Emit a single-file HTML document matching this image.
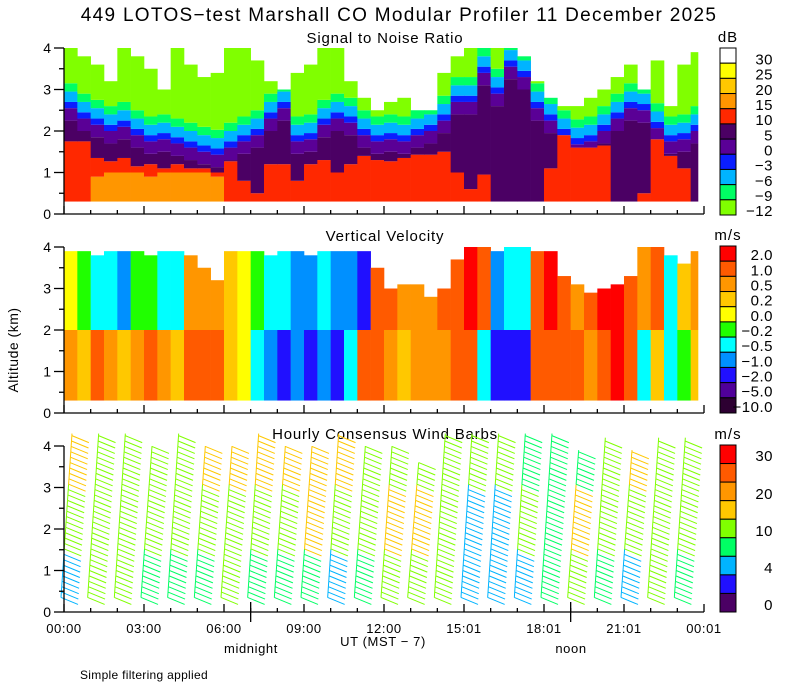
<!DOCTYPE html>
<html><head><meta charset="utf-8">
<style>
html,body{margin:0;padding:0;background:#fff;}
svg{display:block;font-family:"Liberation Sans",sans-serif;}
</style></head>
<body>
<svg id="chart" width="800" height="700" viewBox="0 0 800 700" xmlns="http://www.w3.org/2000/svg">
<rect width="800" height="700" fill="#fff"/>
<text x="399" y="21" font-size="19" letter-spacing="1.3" text-anchor="middle">449 LOTOS−test Marshall CO Modular Profiler 11 December 2025</text>
<text x="385" y="43" font-size="15" letter-spacing="0.8" text-anchor="middle">Signal to Noise Ratio</text>
<text x="385" y="241" font-size="15" letter-spacing="0.8" text-anchor="middle">Vertical Velocity</text>
<text x="385" y="439" font-size="15" letter-spacing="0.8" text-anchor="middle">Hourly Consensus Wind Barbs</text>
<text x="18" y="350" font-size="14" letter-spacing="0.5" text-anchor="middle" transform="rotate(-90 18 350)">Altitude (km)</text>
<text x="383" y="646" font-size="13" letter-spacing="0.6" text-anchor="middle">UT  (MST − 7)</text>
<text x="251" y="653" font-size="13" letter-spacing="0.6" text-anchor="middle">midnight</text>
<text x="571" y="653" font-size="13" letter-spacing="0.6" text-anchor="middle">noon</text>
<text x="80" y="679" font-size="12" letter-spacing="0.3">Simple filtering applied</text>
<g id="layer"></g>
</svg>
<script>
// ---------- data ----------
const timeLabels = ["00:00","03:00","06:00","09:00","12:00","15:01","18:01","21:01","00:01"];
const altTicks = [0,1,2,3,4];
// SNR layer tops (km) per half-hour bin
const snrOrangeTop = [0.3,0.3,0.9,1.0,1.0,1.0,0.9,1.0,1.0,1.0,1.0,0.9,0.3,0.3,0.3,0.3,0.3,0.3,0.3,0.3,0.3,0.3,0.3,0.3,0.3,0.3,0.3,0.3,0.3,0.3,0.3,0.3,0.3,0.3,0.3,0.3,0.3,0.3,0.3,0.3,0.3,0.3,0.3,0.3,0.3,0.3,0.3,0.3];
const snrRedTop = [1.75,1.75,1.35,1.27,1.35,1.15,1.2,1.1,1.2,1.1,1.1,1.0,1.27,0.8,0.5,1.2,1.2,0.8,1.2,1.3,1.0,1.2,1.4,1.3,1.27,1.35,1.43,1.43,1.5,1.0,0.6,0.95,0.3,0.3,0.3,0.3,1.1,2.0,1.6,1.6,1.65,0.3,0.3,0.5,1.8,1.4,1.1,0.3];
const snrPurpleTop = [2.55,2.3,2.15,2.0,2.1,1.9,1.75,1.8,1.7,1.6,1.5,1.43,1.6,1.75,1.9,2.3,2.55,1.75,1.8,2.15,2.3,2.2,1.9,1.75,1.8,1.75,1.9,2.0,2.25,2.7,2.7,3.4,2.9,3.55,3.3,2.55,2.25,1.9,1.68,1.75,2.0,2.3,2.55,2.5,2.07,1.75,1.8,2.0];
const snrDataTop = [4.0,3.8,3.6,3.2,4.0,3.8,3.5,3.0,4.0,3.6,3.3,3.4,4.0,4.0,3.7,3.2,3.0,3.4,3.6,4.0,4.0,3.2,2.8,2.5,2.7,2.8,2.5,2.5,3.4,3.8,4.0,4.0,4.0,4.0,3.8,3.2,2.8,2.6,2.6,2.8,3.0,3.3,3.6,3.0,3.7,2.6,3.6,3.9];
// Vertical velocity (m/s) per half-hour bin, lower (0.3-2 km) and upper (2 km-top)
const vvLow = [0.5,0.2,1.0,0.5,0.2,0.5,1.0,0.5,0.2,1.0,1.5,1.5,0.3,0.0,-0.5,-1.0,-1.5,-1.0,-2.0,-1.0,-2.0,-0.5,1.0,1.5,0.5,0.2,0.5,0.5,0.5,1.0,1.5,-0.5,-2.0,-1.5,-2.0,1.5,1.0,1.0,1.0,0.5,1.5,2.5,1.0,-0.5,0.3,-0.3,-0.2,0.2];
const vvHigh = [0.0,-0.2,-0.3,-0.5,-1.0,-0.2,-0.2,-0.5,-0.5,0.5,0.8,0.5,0.2,0.0,-0.2,-0.5,-0.5,-1.0,-1.0,-0.5,-1.0,-1.0,-2.0,1.5,1.0,0.5,0.5,0.5,1.0,1.0,2.5,1.5,-1.0,-0.5,-0.5,1.5,2.5,1.0,0.5,1.0,2.5,2.5,1.0,0.5,1.0,-0.3,0.2,0.5];
const vvTop = [3.9,3.9,3.8,3.9,3.9,3.9,3.8,3.9,3.9,3.8,3.5,3.2,3.9,3.9,3.9,3.8,3.9,3.9,3.8,3.9,3.9,3.9,3.9,3.5,3.0,3.1,3.1,2.8,3.0,3.7,4.0,4.0,3.9,4.0,4.0,3.9,3.9,3.3,3.1,2.9,3.0,3.1,3.3,4.0,4.0,3.8,3.6,3.9];
// Hourly wind speed (m/s) low / mid / high layers, staff top (km)
const windLow = [6,11,11,9,9,9,10,9,9,9,5,9,11,12,11,5,5,6,9,11,9,5,12,9];
const windMid = [12,12,12,12,12,12,12,13,13,18,12,10,18,18,13,6,6,10,9,18,11,11,12,11];
const windHigh = [18,14,14,14,14,18,18,18,18,18,18,12,12,14,13,11,12,9,9,9,12,18,12,12];
const windTop = [4.3,4.3,4.3,4.0,4.3,4.0,4.0,4.3,4.0,4.0,4.3,4.0,4.0,3.6,4.3,4.3,4.3,4.3,4.3,3.9,4.2,3.9,4.2,4.2];
// colorbars
const snrLabels = ["30","25","20","15","10","5","0","−3","−6","−9","−12"];
const snrColors = ["#ffffff","#ffff00","#ffc800","#ff9600","#ff2800","#4b0064","#5a0096","#0a1eff","#00b4ff","#00ff64","#80ff00"];
const vvLabels = ["2.0","1.0","0.5","0.2","0.0","−0.2","−0.5","−1.0","−2.0","−5.0","−10.0"];
const vvThresh = [2,1,0.5,0.2,0,-0.2,-0.5,-1,-2,-5];
const vvColors = ["#ff0000","#ff5a00","#ff9600","#ffc800","#ffff00","#20ff00","#00ffff","#0090ff","#2010ff","#50009a","#2d0032"];
const windLabels = ["30","20","10","4","0"];
const windThresh = [30,25,20,15,10,7,4,2];
const windColors = ["#ff0000","#ff5a00","#ff9600","#ffc800","#80ff00","#00ff64","#00b4ff","#2010ff","#4b0064"];

// ---------- scales ----------
const NS = "http://www.w3.org/2000/svg";
const layer = document.getElementById('layer');
const X0 = 64, PXH = 640/24, PXK = 41.5, DATA_END = 698;
const bases = [214, 413, 612];
function xS(h){ return X0 + h*PXH; }
function yS(p, km){ return bases[p] - km*PXK; }
function mk(tag, attrs, parent){
  const e = document.createElementNS(NS, tag);
  for (const k in attrs) e.setAttribute(k, attrs[k]);
  (parent||layer).appendChild(e);
  return e;
}
function band(g, p, x, w, k0, k1, col){
  if (k1 <= k0) return;
  const r = mk('rect', {x:x, y:yS(p,k1), width:w, height:(k1-k0)*PXK, fill:col}, g);
  
  
}

// ---------- SNR ----------
const gS = mk('g', {});


snrRedTop.forEach((rt, i) => {
  const x = xS(i*0.5), w = Math.min(xS(i*0.5+0.5), DATA_END) - x + 0.3;
  const top = snrDataTop[i];
  const pt = Math.min(snrPurpleTop[i], top);
  const r = Math.min(Math.max(rt, 0.3), pt);
  const o = Math.min(snrOrangeTop[i], r);
  band(gS, 0, x, w, 0.3, o, snrColors[3]);
  band(gS, 0, x, w, o, r, snrColors[4]);
  const dp = Math.max(r, pt - 0.3);
  band(gS, 0, x, w, r, dp, snrColors[5]);
  band(gS, 0, x, w, dp, pt, snrColors[6]);
  const b = Math.min(pt + 0.15, top), c = Math.min(b + 0.25, top), g = Math.min(c + 0.2, top);
  band(gS, 0, x, w, pt, b, snrColors[7]);
  band(gS, 0, x, w, b, c, snrColors[8]);
  band(gS, 0, x, w, c, g, snrColors[9]);
  band(gS, 0, x, w, g, top, snrColors[10]);
});

// ---------- Vertical velocity ----------
function vvCol(v){ for (let i=0;i<vvThresh.length;i++) if (v >= vvThresh[i]) return vvColors[i]; return vvColors[10]; }
const gV = mk('g', {});


vvLow.forEach((v, i) => {
  const x = xS(i*0.5), w = Math.min(xS(i*0.5+0.5), DATA_END) - x + 0.3;
  const top = vvTop[i];
  band(gV, 1, x, w, 0.3, Math.min(2, top), vvCol(v));
  band(gV, 1, x, w, 2, top, vvCol(vvHigh[i]));
});

// ---------- Wind barbs ----------
function wCol(s){ for (let i=0;i<windThresh.length;i++) if (s >= windThresh[i]) return windColors[i]; return windColors[8]; }
windLow.forEach((lo, h) => {
  const g = mk('g', {});
  
  
  const xb = xS(h) - 3, top = windTop[h];
  const xt = xb + 11;
  const speeds = [lo, windMid[h], windHigh[h]];
  for (let k = 0.35; k <= top + 0.001; k += 0.13) {
    const s = k < 1.5 ? speeds[0] : (k < 3.0 ? speeds[1] : speeds[2]);
    const col = wCol(s);
    const f = (k - 0.35) / Math.max(top - 0.35, 0.1);
    const sx = xb + f*(xt - xb), sy = yS(2, k);
    const nx = xb + Math.min(1, (k - 0.22)/Math.max(top-0.35,0.1))*(xt - xb);
    const seg = mk('line', {x1:sx, y1:sy, x2:nx, y2:yS(2,Math.min(k+0.13,top)), stroke:col, 'stroke-width':1}, g);
    
    
    const bl = mk('line', {x1:sx, y1:sy, x2:sx+17, y2:sy+7, stroke:col, 'stroke-width':1}, g);
    
    
  }
});

// ---------- Axes ----------
[0,1,2].forEach(p => {
  const g = mk('g', {stroke:'#000', 'stroke-width':1.3, fill:'none'});
  
  
  mk('line', {x1:X0, y1:yS(p,4), x2:X0, y2:bases[p]}, g);
  mk('line', {x1:X0, y1:bases[p], x2:704, y2:bases[p]}, g);
  for (let k=0;k<=8;k++){ const y=yS(p,k*0.5); mk('line',{x1:X0-(k%2?5:10), y1:y, x2:X0, y2:y}, g); }
  for (let h=0;h<=24;h++){ const x=xS(h); mk('line',{x1:x, y1:bases[p], x2:x, y2:bases[p]-(h%3?4:8)}, g); }
  altTicks.forEach(a => {
    const t = mk('text', {x:X0-13, y:yS(p,a)+5, 'font-size':14, 'text-anchor':'end', fill:'#000', stroke:'none'});
    
    
    t.textContent = a;
  });
});
const ga = mk('g', {stroke:'#000', 'stroke-width':1.3});


mk('line', {x1:xS(7), y1:bases[2]-10, x2:xS(7), y2:bases[2]+10}, ga);
mk('line', {x1:xS(19), y1:bases[2]-10, x2:xS(19), y2:bases[2]+10}, ga);
timeLabels.forEach((l, i) => {
  const t = mk('text', {x:xS(i*3), y:633, 'font-size':13, 'letter-spacing':0.6, 'text-anchor':'middle'});
  
  
  t.textContent = l;
});

// ---------- Colorbars ----------
function colorbar(name, top, bot, colors, labels, unit, labelPos){
  const g = mk('g', {});
  
  
  const n = colors.length, ch = (bot-top)/n;
  colors.forEach((c, i) => {
    const r = mk('rect', {x:720, y:top+i*ch, width:16, height:ch, fill:c, stroke:'#000', 'stroke-width':1}, g);
    
    
  });
  const u = mk('text', {x:728, y:top-6, 'font-size':15, 'letter-spacing':1, 'text-anchor':'middle'}, g);
  
  
  u.textContent = unit;
  labels.forEach((l, i) => {
    const t = mk('text', {x:773, y:labelPos(i, ch)+5, 'font-size':15, 'letter-spacing':0.5, 'text-anchor':'end'}, g);
    
    
    t.textContent = l;
  });
}
colorbar('snr-colorbar', 48, 215, snrColors, snrLabels, 'dB', (i,ch)=>48+ch*(i+0.75));
colorbar('velocity-colorbar', 246, 413, vvColors, vvLabels, 'm/s', (i,ch)=>246+ch*(i+0.6));
colorbar('wind-colorbar', 445, 612, windColors, windLabels, 'm/s', (i,ch)=>[458,496,533,570,607][i]-2);
</script>
</body></html>
